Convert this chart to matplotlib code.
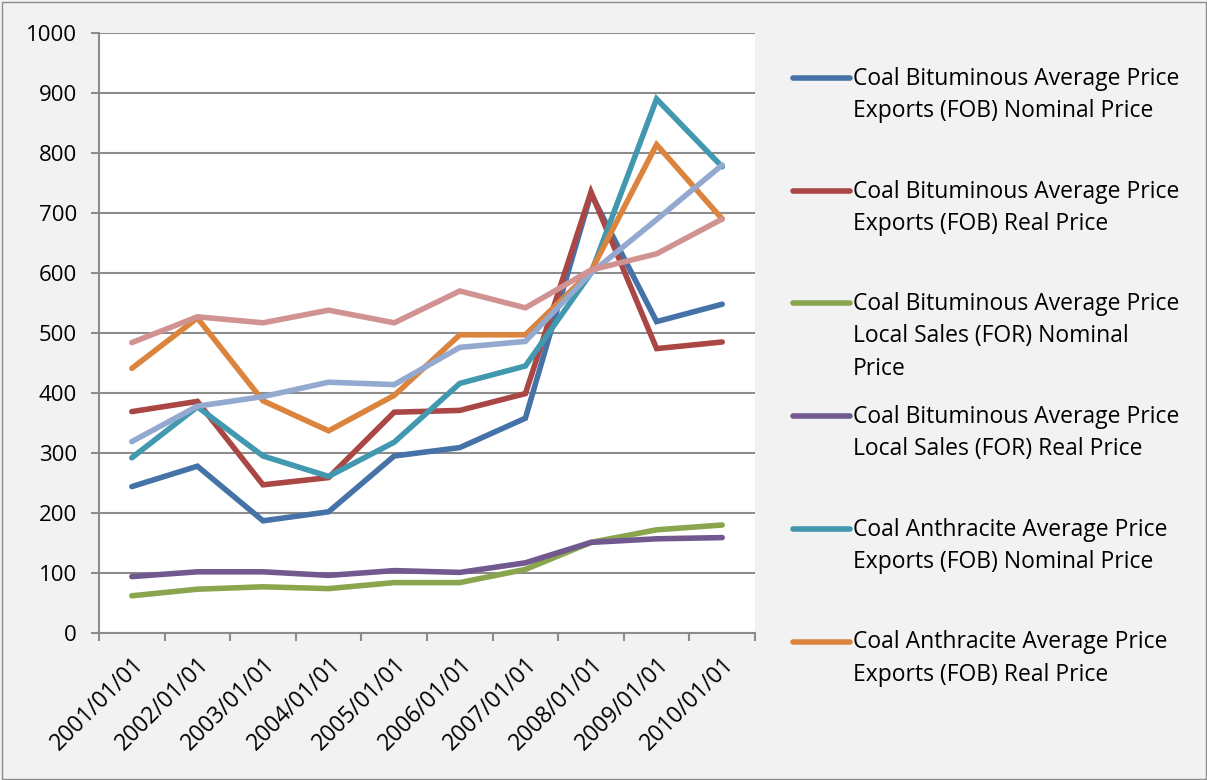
import matplotlib.pyplot as plt
from matplotlib.lines import Line2D
from matplotlib.patches import Rectangle

plt.rcParams['font.family'] = ['Open Sans', 'DejaVu Sans']

years = ['2001/01/01', '2002/01/01', '2003/01/01', '2004/01/01', '2005/01/01',
         '2006/01/01', '2007/01/01', '2008/01/01', '2009/01/01', '2010/01/01']

bit_exp_nominal = [244, 278, 187, 202, 295, 309, 358, 732, 519, 548]
bit_exp_real = [369, 386, 247, 259, 368, 371, 399, 735, 474, 485]
bit_local_nominal = [62, 73, 77, 74, 84, 84, 106, 151, 172, 180]
bit_local_real = [94, 102, 102, 96, 104, 101, 117, 151, 157, 159]
anth_exp_nominal = [292, 377, 295, 261, 318, 416, 445, 600, 890, 777]
anth_exp_real = [441, 525, 387, 337, 396, 497, 497, 603, 814, 690]
anth_local_nominal = [319, 378, 394, 418, 414, 476, 486, 600, 689, 780]
anth_local_real = [484, 527, 517, 538, 517, 570, 542, 605, 632, 690]

series = [bit_exp_nominal, bit_exp_real, bit_local_nominal, bit_local_real,
          anth_exp_nominal, anth_exp_real, anth_local_nominal, anth_local_real]
colors = ['#4572A7', '#AA4643', '#89A54E', '#71588F',
          '#4198AF', '#DB843D', '#93A9CF', '#D19392']
# only the first six series show up in the legend
legend_labels = [
    'Coal Bituminous Average Price\nExports (FOB) Nominal Price',
    'Coal Bituminous Average Price\nExports (FOB) Real Price',
    'Coal Bituminous Average Price\nLocal Sales (FOR) Nominal\nPrice',
    'Coal Bituminous Average Price\nLocal Sales (FOR) Real Price',
    'Coal Anthracite Average Price\nExports (FOB) Nominal Price',
    'Coal Anthracite Average Price\nExports (FOB) Real Price',
]

W, H = 1207, 780
fig = plt.figure(figsize=(W / 100, H / 100), dpi=100, facecolor='#f2f2f2')
fig.patches.append(Rectangle((1.5 / W, 1.5 / H), 1 - 3 / W, 1 - 3 / H,
                             transform=fig.transFigure, fill=False,
                             edgecolor='#8c8c8c', linewidth=1))

ax = fig.add_axes([99 / W, 1 - 633 / H, (755 - 99) / W, 600 / H])
ax.set_facecolor('white')

x = list(range(len(years)))
for vals, c in zip(series, colors):
    ax.plot(x, vals, color=c, linewidth=4, solid_capstyle='round',
            solid_joinstyle='miter')

ax.set_xlim(-0.5, len(years) - 0.5)
ax.set_ylim(0, 1000)
ax.set_yticks(range(0, 1001, 100))
ax.yaxis.grid(True, color='#8c8c8c', linewidth=1.5)
ax.set_axisbelow(True)

ax.set_xticks([i - 0.5 for i in range(len(years) + 1)])
ax.set_xticklabels([])
ax.set_xticks(x, minor=True)
ax.set_xticklabels(years, minor=True, rotation=45, ha='right', va='top',
                   rotation_mode='anchor', fontsize=16.5)
ax.tick_params(axis='x', which='minor', length=0, pad=14)
ax.tick_params(axis='x', which='major', length=6, width=1.5, color='#8c8c8c')
ax.tick_params(axis='y', length=6, width=1.5, color='#8c8c8c', labelsize=16, pad=10)

for s in ['top', 'right']:
    ax.spines[s].set_visible(False)
for s in ['left', 'bottom']:
    ax.spines[s].set_color('#8c8c8c')
    ax.spines[s].set_linewidth(1.5)

# legend drawn by hand so the key sits on the first line of each label
for i, (lab, c) in enumerate(zip(legend_labels, colors)):
    yc = 78 + 112.7 * i
    fig.add_artist(Line2D([793 / W, 850 / W], [1 - yc / H, 1 - yc / H],
                          color=c, linewidth=4, solid_capstyle='round'))
    fig.text(853 / W, 1 - (yc - 11) / H, lab, fontsize=16.5, va='top',
             ha='left', linespacing=1.45)

fig.savefig('out.png', dpi=100, facecolor=fig.get_facecolor())
